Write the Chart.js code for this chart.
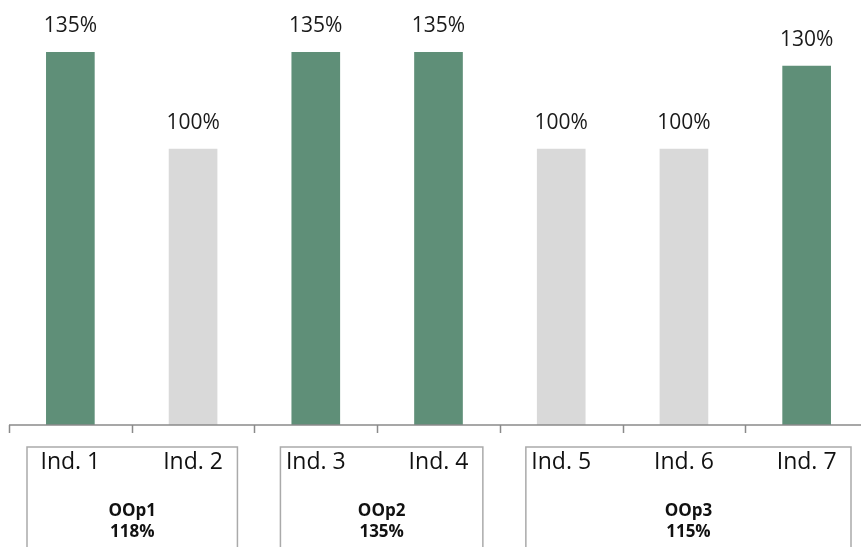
<!DOCTYPE html>
<html>
<head>
<meta charset="utf-8">
<script src="https://cdn.jsdelivr.net/npm/chart.js@4.4.1/dist/chart.umd.min.js"></script>
<style>
  html, body { margin: 0; padding: 0; background: #fff; overflow: hidden; width: 861px; height: 547px; }
  canvas { display: block; }
</style>
</head>
<body>
<canvas id="chart" width="880" height="547"></canvas>
<script>
const indicators = ["Ind. 1", "Ind. 2", "Ind. 3", "Ind. 4", "Ind. 5", "Ind. 6", "Ind. 7"];
const scores = [135, 100, 135, 135, 100, 100, 130];
const groupNames = ["OOp1", "OOp2", "OOp3"];
const groupScores = ["118%", "135%", "115%"];
const groupStart = [0, 2, 4];
const groupEnd = [1, 3, 6];

const GREEN = "#5f8f78";
const GREY = "#d9d9d9";
const FONT = "'Open Sans', 'Noto Sans', sans-serif";

const overlay = {
  id: "overlay",
  afterDatasetsDraw(chart) {
    const ctx = chart.ctx;
    const meta = chart.getDatasetMeta(0);
    ctx.save();
    ctx.fillStyle = "#1a1a1a";
    ctx.font = "21px " + FONT;
    ctx.textAlign = "center";
    ctx.textBaseline = "middle";
    meta.data.forEach((bar, i) => {
      ctx.fillText(scores[i] + "%", bar.x, bar.y - 26);
    });
    ctx.restore();
  },
  afterDraw(chart) {
    const ctx = chart.ctx;
    const x = chart.scales.x;
    const half = (x.getPixelForValue(1) - x.getPixelForValue(0)) / 2;
    const axisY = chart.chartArea.bottom;
    ctx.save();

    // group boxes (first one sits a bit closer to its left tick)
    ctx.strokeStyle = "#aaaaaa";
    ctx.lineWidth = 1.5;
    groupNames.forEach((name, g) => {
      const left = x.getPixelForValue(groupStart[g]) - half + (g === 0 ? 18 : 26);
      const right = x.getPixelForValue(groupEnd[g]) + half - 17;
      ctx.strokeRect(left, axisY + 22, right - left, 200);
      const cx = (left + right) / 2;
      ctx.fillStyle = "#111";
      ctx.font = "bold 17px " + FONT;
      ctx.textAlign = "center";
      ctx.textBaseline = "middle";
      ctx.fillText(name, cx, axisY + 86);
      ctx.fillText(groupScores[g], cx, axisY + 107);
    });

    // category labels
    ctx.fillStyle = "#111";
    ctx.font = "23px " + FONT;
    ctx.textAlign = "center";
    ctx.textBaseline = "middle";
    indicators.forEach((label, i) => {
      ctx.fillText(label, x.getPixelForValue(i), axisY + 37);
    });

    // axis line and tick marks at category boundaries
    ctx.strokeStyle = "#8a8a8a";
    ctx.lineWidth = 1.5;
    ctx.beginPath();
    ctx.moveTo(x.left, axisY);
    ctx.lineTo(x.right, axisY);
    for (let i = 0; i <= indicators.length; i++) {
      const px = Math.round(x.getPixelForValue(i) - half) + 0.5;
      ctx.moveTo(px, axisY);
      ctx.lineTo(px, axisY + 8);
    }
    ctx.stroke();
    ctx.restore();
  }
};

new Chart(document.getElementById("chart"), {
  type: "bar",
  data: {
    labels: indicators,
    datasets: [{
      data: scores,
      backgroundColor: scores.map(v => (v > 100 ? GREEN : GREY)),
      borderWidth: 0,
      barThickness: 48
    }]
  },
  options: {
    responsive: false,
    animation: false,
    events: [],
    layout: { padding: { left: 9, right: 12, top: 11, bottom: 122 } },
    plugins: { legend: { display: false }, tooltip: { enabled: false } },
    scales: {
      x: { display: false },
      y: { display: false, min: 0, max: 150 }
    }
  },
  plugins: [overlay]
});
</script>
</body>
</html>
